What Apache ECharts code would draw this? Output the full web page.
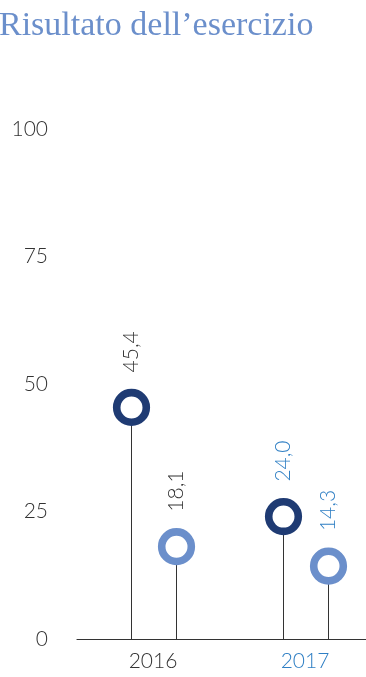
<!DOCTYPE html>
<html>
<head>
<meta charset="utf-8">
<script src="https://cdn.jsdelivr.net/npm/echarts@6/dist/echarts.min.js"></script>
<style>
html,body{margin:0;padding:0;background:#fff;}
#chart{width:366px;height:677px;}
</style>
</head>
<body>
<div id="chart"></div>
<script>
"use strict";
// dati
var years = ['2016', '2017'];
var darkValues = [45.4, 24.0];
var lightValues = [18.1, 14.3];
var yTicks = [0, 25, 50, 75, 100];

var yearColors = ['#333333', '#2f7fc4'];
var labelFont = '300 21px Lato';

function fmt(v){
    return v.toFixed(1).replace('.', ',');
}

function makeRender(offset, ringColor){
    return function(params, api){
        var idx = api.value(0);
        var pt = api.coord([idx, api.value(1)]);
        var base = api.coord([idx, 0]);
        var x = Math.round(pt[0] + offset) + 0.5;
        return {
            type: 'group',
            children: [
                {type:'line', shape:{x1:x, y1:base[1], x2:x, y2:pt[1]}, style:{stroke:'#333', lineWidth:1}},
                {type:'circle', shape:{cx:x, cy:pt[1], r:14.8}, style:{fill:'#fff', stroke:ringColor, lineWidth:7.6}},
                {type:'text', x:x, y:pt[1] - 35, rotation:Math.PI/2,
                    style:{text:fmt(api.value(1)), align:'left', verticalAlign:'middle', fill:yearColors[idx], font:labelFont}}
            ]
        };
    };
}

var myChart = echarts.init(document.getElementById('chart'));
var option = {
    animation: false,
    title: {
        text: 'Risultato dell\u2019esercizio',
        left: -1,
        top: 9,
        padding: 0,
        textStyle: {fontFamily:'Liberation Serif', fontSize:34, fontWeight:'normal', color:'#6b8fcb'}
    },
    grid: {left:77, top:129, width:304, height:510, outerBoundsMode:'none', containLabel:false},
    xAxis: {
        type: 'category',
        data: years,
        axisLine: {lineStyle:{color:'#333', width:1.2}},
        axisTick: {show:false},
        axisLabel: {
            margin: 12,
            fontFamily: 'Lato', fontWeight: 300, fontSize: 21,
            color: function(v, i){ return yearColors[i]; }
        }
    },
    yAxis: {
        type: 'value',
        min: yTicks[0],
        max: yTicks[yTicks.length - 1],
        interval: 25,
        axisLine: {show:false},
        axisTick: {show:false},
        splitLine: {show:false},
        axisLabel: {margin:29, fontFamily:'Lato', fontWeight:300, fontSize:21, color:'#333'}
    },
    series: [
        {
            type: 'custom',
            renderItem: makeRender(-22.5, '#1f3b73'),
            data: darkValues.map(function(v, i){ return [i, v]; }),
            z: 3
        },
        {
            type: 'custom',
            renderItem: makeRender(22.5, '#6b8fcb'),
            data: lightValues.map(function(v, i){ return [i, v]; }),
            z: 3
        }
    ]
};
myChart.setOption(option);
</script>
</body>
</html>
